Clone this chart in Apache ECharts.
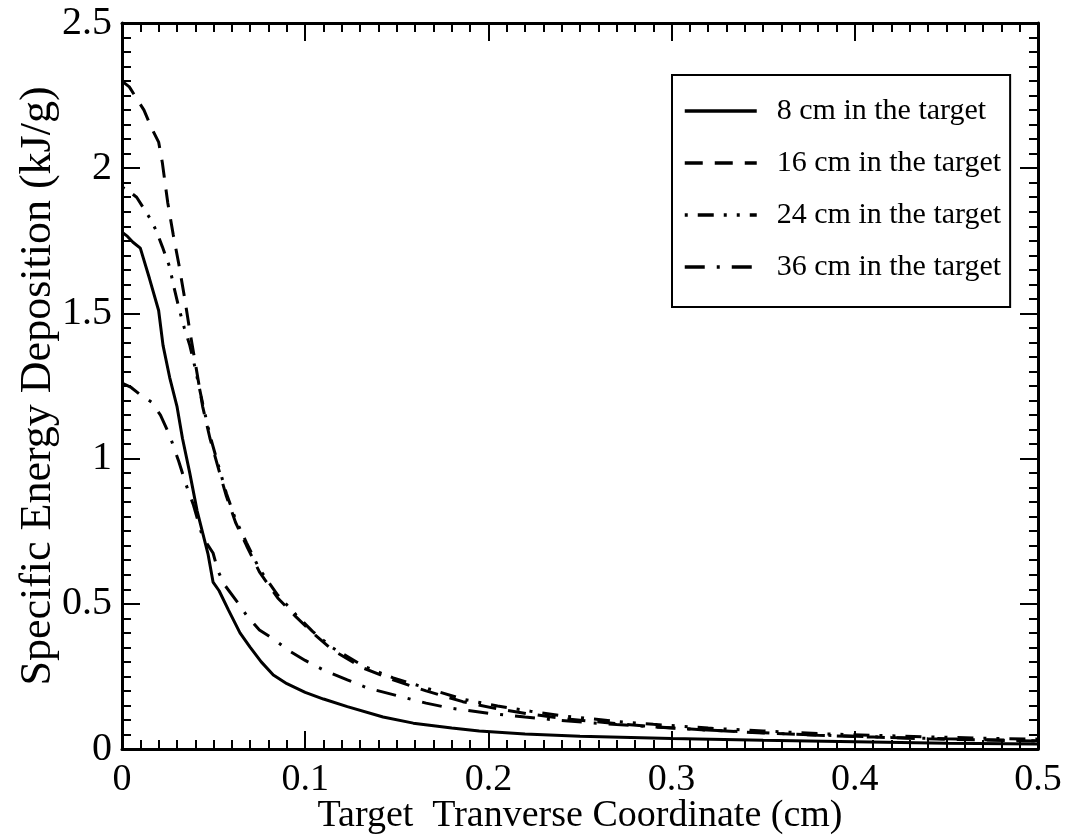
<!DOCTYPE html>
<html>
<head>
<meta charset="utf-8">
<style>
  html, body { margin: 0; padding: 0; background: #fff; }
  #chart { width: 1082px; height: 837px; }
</style>
<script src="https://cdn.jsdelivr.net/npm/echarts@6/dist/echarts.min.js"></script>
</head>
<body>
<div id="chart"></div>
<script>
// Transverse coordinate (cm) and specific energy deposition (kJ/g) at four depths
const x8  = [0, 0.003, 0.006, 0.01, 0.015, 0.02, 0.0224, 0.026, 0.03, 0.033, 0.037, 0.041, 0.047, 0.0497, 0.053, 0.058, 0.0644, 0.07, 0.076, 0.0826, 0.09, 0.1, 0.11, 0.123, 0.1425, 0.159, 0.18, 0.195, 0.22, 0.25, 0.3, 0.35, 0.4, 0.45, 0.5];
const y8  = [1.78, 1.765, 1.745, 1.725, 1.62, 1.51, 1.39, 1.28, 1.18, 1.07, 0.95, 0.82, 0.67, 0.575, 0.545, 0.48, 0.40, 0.35, 0.30, 0.255, 0.225, 0.195, 0.172, 0.146, 0.11, 0.089, 0.072, 0.062, 0.052, 0.044, 0.036, 0.03, 0.025, 0.02, 0.017];

const x16 = [0, 0.004, 0.008, 0.012, 0.016, 0.02, 0.022, 0.025, 0.028, 0.031, 0.034, 0.037, 0.04, 0.044, 0.048, 0.052, 0.057, 0.062, 0.068, 0.075, 0.085, 0.095, 0.104, 0.115, 0.132, 0.148, 0.166, 0.186, 0.205, 0.223, 0.241, 0.27, 0.29, 0.32, 0.35, 0.38, 0.41, 0.44, 0.47, 0.5];
const y16 = [2.30, 2.28, 2.24, 2.20, 2.14, 2.09, 2.02, 1.88, 1.77, 1.67, 1.56, 1.44, 1.33, 1.18, 1.07, 0.98, 0.87, 0.78, 0.70, 0.61, 0.52, 0.455, 0.40, 0.34, 0.278, 0.238, 0.200, 0.163, 0.138, 0.120, 0.105, 0.087, 0.077, 0.065, 0.055, 0.047, 0.041, 0.035, 0.031, 0.027];

const x24 = [0, 0.004, 0.008, 0.012, 0.016, 0.019, 0.022, 0.026, 0.028, 0.031, 0.034, 0.037, 0.04, 0.044, 0.048, 0.052, 0.057, 0.062, 0.068, 0.075, 0.085, 0.095, 0.104, 0.115, 0.132, 0.148, 0.166, 0.186, 0.205, 0.223, 0.241, 0.27, 0.29, 0.32, 0.35, 0.38, 0.41, 0.44, 0.47, 0.5];
const y24 = [1.935, 1.92, 1.90, 1.86, 1.82, 1.78, 1.73, 1.66, 1.60, 1.52, 1.45, 1.39, 1.31, 1.19, 1.08, 0.99, 0.88, 0.79, 0.71, 0.62, 0.53, 0.462, 0.405, 0.348, 0.285, 0.245, 0.21, 0.172, 0.148, 0.13, 0.114, 0.095, 0.085, 0.072, 0.062, 0.053, 0.047, 0.042, 0.037, 0.034];

const x36 = [0, 0.005, 0.01, 0.016, 0.021, 0.026, 0.031, 0.035, 0.039, 0.044, 0.0497, 0.0524, 0.056, 0.063, 0.068, 0.075, 0.0824, 0.092, 0.1, 0.11, 0.123, 0.134, 0.153, 0.166, 0.179, 0.2, 0.22, 0.24, 0.27, 0.3, 0.33, 0.36, 0.39, 0.42, 0.45, 0.48, 0.5];
const y36 = [1.26, 1.245, 1.22, 1.195, 1.15, 1.08, 0.99, 0.91, 0.84, 0.73, 0.675, 0.613, 0.565, 0.506, 0.46, 0.41, 0.38, 0.335, 0.305, 0.272, 0.238, 0.21, 0.179, 0.158, 0.141, 0.123, 0.11, 0.098, 0.084, 0.072, 0.062, 0.053, 0.046, 0.04, 0.035, 0.031, 0.028];

const seriesNames = ['8 cm in the target', '16 cm in the target', '24 cm in the target', '36 cm in the target'];
const xTickLabels = ['0', '0.1', '0.2', '0.3', '0.4', '0.5'];
const yTickLabels = ['0', '0.5', '1', '1.5', '2', '2.5'];

const pairs = (xs, ys) => xs.map((x, i) => [x, ys[i]]);
const serif = 'Liberation Serif';

const dashStyles = ['solid', [18, 12], [16, 10, 3, 10, 3, 10], [20, 12, 3, 12]];
const dashOffsets = [0, 0, 39, 0];
const dataSets = [pairs(x8, y8), pairs(x16, y16), pairs(x24, y24), pairs(x36, y36)];

const frameAxis = (extra) => Object.assign({
  type: 'value',
  nameMoveOverlap: false,
  axisLine: { show: true, onZero: false, lineStyle: { color: '#000', width: 3 } },
  axisTick: { show: true, inside: true, length: 18, lineStyle: { color: '#000', width: 2 } },
  minorTick: { show: true, splitNumber: 10, length: 9, lineStyle: { color: '#000', width: 2 } },
  splitLine: { show: false },
  minorSplitLine: { show: false }
}, extra);

const chart = echarts.init(document.getElementById('chart'), null, { renderer: 'canvas' });
chart.setOption({
  backgroundColor: '#fff',
  animation: false,
  grid: { left: 122, right: 44, top: 23, bottom: 88, containLabel: false, outerBoundsMode: 'none' },
  legend: {
    data: seriesNames,
    orient: 'vertical',
    left: 672, top: 75,
    padding: [21, 9, 25, 11],
    itemGap: 22,
    itemWidth: 72, itemHeight: 14,
    borderColor: '#000', borderWidth: 2,
    backgroundColor: '#fff',
    itemStyle: { opacity: 0 },
    lineStyle: { width: 3.5, color: '#000' },
    textStyle: { fontFamily: serif, fontSize: 30, color: '#000', padding: [0, 0, 0, 15] }
  },
  xAxis: [
    frameAxis({
      position: 'bottom', min: 0, max: 0.5, interval: 0.1,
      axisLabel: { show: true, margin: 12, color: '#000', fontFamily: serif, fontSize: 38,
        formatter: (v) => xTickLabels[Math.round(v * 10)] },
      name: 'Target  Tranverse Coordinate (cm)', nameLocation: 'middle', nameGap: 48,
      nameTextStyle: { fontFamily: serif, fontSize: 38, color: '#000' }
    }),
    frameAxis({ position: 'top', min: 0, max: 0.5, interval: 0.1, axisLabel: { show: false } })
  ],
  yAxis: [
    frameAxis({
      position: 'left', min: 0, max: 2.5, interval: 0.5,
      axisLabel: { show: true, margin: 10, color: '#000', fontFamily: serif, fontSize: 40,
        formatter: (v) => yTickLabels[Math.round(v * 2)] },
      name: 'Specific Energy Deposition (kJ/g)', nameLocation: 'middle', nameGap: 62,
      nameTextStyle: { fontFamily: serif, fontSize: 44, color: '#000' }
    }),
    frameAxis({ position: 'right', min: 0, max: 2.5, interval: 0.5, axisLabel: { show: false } })
  ],
  series: seriesNames.map((name, i) => ({
    name,
    type: 'line',
    data: dataSets[i],
    symbol: 'none',
    showSymbol: false,
    clip: true,
    lineStyle: { color: '#000', width: 3, type: dashStyles[i], dashOffset: dashOffsets[i] },
    itemStyle: { color: '#000' },
    z: 2
  }))
});
</script>
</body>
</html>
